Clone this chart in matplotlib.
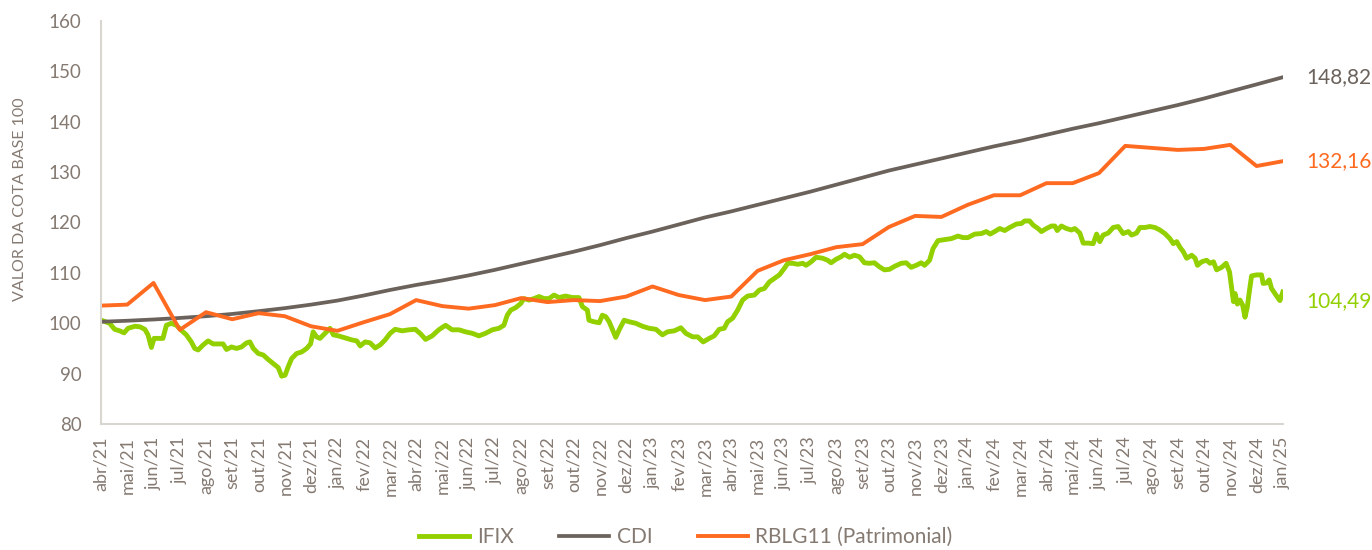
import matplotlib
matplotlib.use("Agg")
import matplotlib.pyplot as plt

plt.rcParams['font.family'] = ['Lato', 'DejaVu Sans']

month_names = ["jan", "fev", "mar", "abr", "mai", "jun", "jul", "ago", "set", "out", "nov", "dez"]
# monthly tick labels abr/21 .. jan/25
tick_labels = []
y, m = 2021, 3
for _ in range(46):
    tick_labels.append(f"{month_names[m]}/{str(y)[2:]}")
    m += 1
    if m == 12:
        m = 0
        y += 1

# CDI (monthly, index 0 = abr/21)
cdi = [100.30, 100.50, 100.75, 101.05, 101.40, 101.85, 102.40, 103.00, 103.70, 104.50,
       105.50, 106.60, 107.60, 108.50, 109.50, 110.60, 111.80, 113.00, 114.20, 115.50,
       116.90, 118.20, 119.60, 121.00, 122.20, 123.50, 124.80, 126.10, 127.50, 128.90,
       130.30, 131.50, 132.70, 133.90, 135.10, 136.20, 137.40, 138.60, 139.70, 140.90,
       142.10, 143.30, 144.60, 146.00, 147.40, 148.82]

# RBLG11 (Patrimonial), monthly
rblg = [103.5, 103.7, 108.0, 98.7, 102.2, 100.8, 102.0, 101.4, 99.4, 98.5,
        100.2, 101.8, 104.6, 103.4, 102.9, 103.6, 105.0, 104.2, 104.6, 104.4,
        105.3, 107.3, 105.6, 104.6, 105.3, 110.4, 112.5, 113.7, 115.1, 115.7,
        119.1, 121.3, 121.1, 123.5, 125.4, 125.4, 127.8, 127.8, 129.8, 135.2,
        134.8, 134.4, 134.6, 135.4, 131.2, 132.16]

# IFIX (time in months since abr/21, value)
ifix_t = [0.01, 0.33, 0.52, 0.71, 0.88, 1.03, 1.29, 1.48, 1.67, 1.79, 1.92, 2.02, 2.17, 2.36, 2.49,
          2.68, 2.87, 3.06, 3.25, 3.44, 3.57, 3.70, 3.89, 4.08, 4.27, 4.46, 4.65, 4.78, 4.97, 5.16,
          5.35, 5.54, 5.67, 5.80, 5.99, 6.18, 6.37, 6.56, 6.75, 6.88, 7.01, 7.13, 7.26, 7.45, 7.64,
          7.83, 7.98, 8.08, 8.21, 8.34, 8.53, 8.72, 8.85, 9.04, 9.29, 9.55, 9.74, 9.87, 10.06, 10.25,
          10.44, 10.63, 10.82, 11.01, 11.20, 11.47, 11.72, 11.97, 12.17, 12.36, 12.61, 12.86, 13.12,
          13.37, 13.63, 13.88, 14.14, 14.39, 14.64, 14.90, 15.15, 15.34, 15.47, 15.60, 15.79, 15.98,
          16.10, 16.30, 16.49, 16.68, 16.87, 17.06, 17.25, 17.44, 17.69, 17.95, 18.20, 18.33, 18.52,
          18.58, 18.77, 18.97, 19.09, 19.22, 19.35, 19.48, 19.60, 19.73, 19.92, 20.11, 20.36, 20.62,
          20.87, 21.13, 21.38, 21.57, 21.83, 22.08, 22.27, 22.53, 22.72, 22.93, 23.16, 23.35, 23.54,
          23.73, 23.86, 24.05, 24.24, 24.43, 24.62, 24.88, 25.07, 25.26, 25.45, 25.64, 25.83, 26.02,
          26.15, 26.34, 26.53, 26.72, 26.85, 27.04, 27.23, 27.48, 27.67, 27.80, 27.99, 28.18, 28.31,
          28.50, 28.69, 28.88, 29.07, 29.26, 29.45, 29.64, 29.83, 30.02, 30.22, 30.47, 30.66, 30.85,
          31.04, 31.23, 31.36, 31.55, 31.68, 31.87, 32.12, 32.38, 32.63, 32.82, 33.01, 33.27, 33.52,
          33.71, 33.86, 34.03, 34.22, 34.41, 34.60, 34.86, 35.05, 35.17, 35.36, 35.49, 35.68, 35.81,
          36.00, 36.19, 36.32, 36.41, 36.57, 36.76, 36.95, 37.08, 37.27, 37.40, 37.59, 37.78, 37.91,
          38.03, 38.16, 38.35, 38.54, 38.73, 38.92, 39.12, 39.24, 39.43, 39.56, 39.75, 39.94, 40.13,
          40.32, 40.51, 40.70, 40.83, 40.96, 41.08, 41.21, 41.34, 41.53, 41.66, 41.75, 41.91, 42.10,
          42.23, 42.36, 42.48, 42.67, 42.84, 42.97, 43.06, 43.12, 43.18, 43.27, 43.37, 43.47, 43.56,
          43.65, 43.72, 43.81, 44.00, 44.19, 44.25, 44.38, 44.48, 44.57, 44.70, 44.83, 44.89, 45.00]
ifix_v = [100.6, 100.0, 98.8, 98.5, 98.1, 99.0, 99.4, 99.3, 98.8, 97.7, 95.2, 97.0, 97.0, 97.0, 99.6,
          100.0, 99.6, 98.6, 97.7, 96.3, 95.0, 94.7, 95.7, 96.5, 95.9, 95.9, 95.9, 94.8, 95.3, 95.0,
          95.3, 96.1, 96.3, 95.0, 94.0, 93.7, 92.8, 92.0, 91.2, 89.5, 89.7, 91.4, 93.0, 94.0, 94.3,
          95.0, 95.9, 98.3, 97.3, 97.0, 98.0, 99.0, 97.7, 97.5, 97.1, 96.7, 96.5, 95.5, 96.3, 96.1,
          95.1, 95.7, 96.7, 98.0, 98.8, 98.5, 98.7, 98.8, 97.9, 96.8, 97.5, 98.7, 99.6,
          98.7, 98.7, 98.3, 98.0, 97.5, 98.0, 98.7, 99.0, 99.6, 101.6, 102.6, 103.1, 103.9,
          104.9, 104.6, 104.9, 105.3, 104.9, 104.9, 105.6, 105.1, 105.4, 105.1, 105.1, 103.3, 102.6,
          100.6, 100.3, 100.1, 101.6, 101.3, 100.3, 98.7, 97.2, 98.7, 100.6, 100.3, 100.0, 99.4,
          99.0, 98.8, 97.7, 98.3, 98.5, 99.1, 98.0, 97.3, 97.3, 96.3, 97.0, 97.5, 98.8,
          99.0, 100.3, 101.0, 102.6, 104.6, 105.4, 105.6, 106.6, 106.9, 108.2, 108.9, 109.6, 110.9,
          111.9, 111.9, 111.7, 111.9, 111.5, 112.2, 113.1, 112.9, 112.5, 112.0, 112.7, 113.2, 113.7,
          113.1, 113.5, 113.2, 112.0, 111.9, 112.0, 111.2, 110.6, 110.7, 111.3, 111.9, 112.0, 111.1,
          111.5, 112.0, 111.5, 112.5, 114.8, 116.4, 116.6, 116.8, 117.3, 117.0, 117.0, 117.7, 117.8,
          118.2, 117.7, 118.2, 118.8, 118.4, 119.0, 119.7, 119.8, 120.3, 120.3, 119.5, 118.8, 118.2,
          118.8, 119.3, 119.3, 118.4, 119.3, 118.8, 118.5, 118.8, 117.9, 115.9, 115.9, 115.8, 117.7,
          116.2, 117.5, 117.9, 119.0, 119.2, 117.8, 118.2, 117.5, 117.9, 119.0, 119.0, 119.2, 119.0,
          118.5, 117.8, 116.8, 115.8, 116.2, 115.1, 114.2, 112.9, 113.5, 112.9, 111.5, 112.2, 112.5,
          111.9, 112.2, 110.6, 111.1, 111.9, 110.2, 106.6, 104.3, 105.9, 103.8, 104.6, 103.6, 101.2,
          103.3, 106.1, 109.4, 109.6, 109.6, 107.9, 108.0, 108.6, 106.9, 105.9, 104.9, 104.5, 106.2]

end_labels = ["148,82", "132,16", "104,49"]
end_values = [148.82, 132.16, 104.49]

C_IFIX = "#92D000"
C_CDI = "#6B625C"
C_RBLG = "#FF6A21"
C_TEXT = "#857A72"
C_AXIS = "#D9D5D0"

fig = plt.figure(figsize=(13.72, 5.5), dpi=100)
ax = fig.add_axes([0.0736, 0.229, 0.8614, 0.733])

months = list(range(len(cdi)))
l1, = ax.plot(ifix_t, ifix_v, color=C_IFIX, lw=3.5, label="IFIX", solid_joinstyle="round")
l2, = ax.plot(months, cdi, color=C_CDI, lw=2.7, label="CDI")
l3, = ax.plot(months, rblg, color=C_RBLG, lw=2.8, label="RBLG11 (Patrimonial)")

ax.set_xlim(0, 45)
ax.set_ylim(80, 160)
ax.set_yticks(range(80, 161, 10))
ax.set_xticks(months)
ax.set_xticklabels(tick_labels, rotation=90, fontsize=13, color=C_TEXT)
ax.tick_params(axis='x', length=0, pad=9)
ax.tick_params(axis='y', length=0, pad=14, labelsize=13.5, labelcolor=C_TEXT)

for s in ["top", "right"]:
    ax.spines[s].set_visible(False)
for s in ["left", "bottom"]:
    ax.spines[s].set_color(C_AXIS)
    ax.spines[s].set_linewidth(1.5)

ax.set_ylabel("VALOR DA COTA BASE 100", fontsize=11.5, color=C_TEXT)
ax.yaxis.set_label_coords(-0.063, 0.558)

for val, txt, col in zip(end_values, end_labels, [C_CDI, C_RBLG, C_IFIX]):
    ax.annotate(txt, xy=(45, val), xytext=(17, 0), textcoords="offset points",
                fontsize=15, color=col, va="center", ha="left", annotation_clip=False)

leg = fig.legend(handles=[l1, l2, l3], loc="lower center", bbox_to_anchor=(0.5, -0.025),
                 ncol=3, frameon=False, fontsize=15, handlelength=2.4, columnspacing=2.2,
                 handletextpad=0.35, borderpad=0.3)
for t in leg.get_texts():
    t.set_color(C_TEXT)

fig.savefig("out.png", dpi=100)
